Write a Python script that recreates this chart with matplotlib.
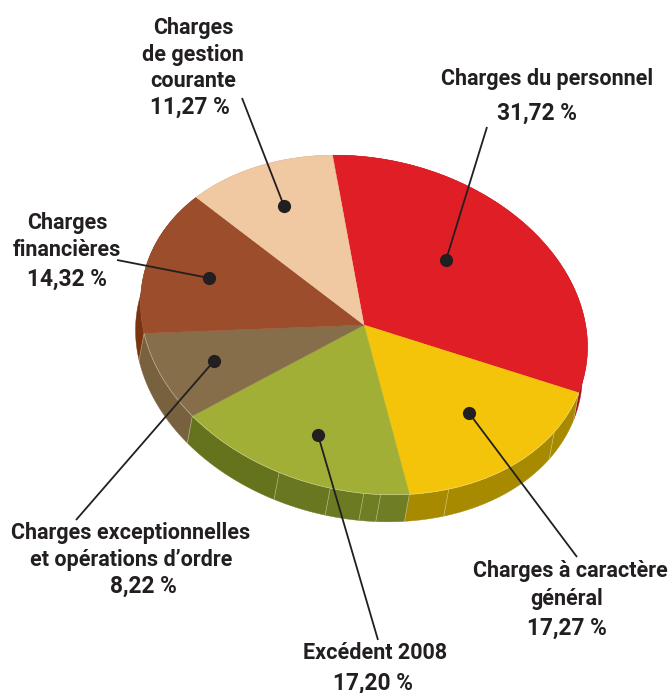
import numpy as np
import matplotlib; matplotlib.use("Agg")
import matplotlib.pyplot as plt
from matplotlib.transforms import Affine2D
from matplotlib.patches import Polygon
plt.rcParams.update({"font.family":"Roboto","font.weight":"bold"})
INK="#231f20"

labels=["Charges du personnel","Charges à caractère général","Excédent 2008",
        "Charges exceptionnelles et opérations d’ordre","Charges financières","Charges de gestion courante"]
values=[31.72,17.27,17.20,8.22,14.32,11.27]
top_cols=["#e01e26","#f3c409","#a1af37","#876e4a","#9c4d2b","#f0c8a2"]
side_cols=["#a51020","#a88a00","#65731c","#78613f","#7a3510","#c9a080"]
# rim facet breaks, as fraction of each slice (clockwise from its start)
side_breaks={1:[0.25,0.83],2:[0.12,0.19,0.33,0.55]}
facet_tint={2:["#6f7d24","#6f7d24","#6c7a22","#697720","#65731c"]}

cx,cy=364,325; ra,rb=224,168; tilt=6; shear=3; start=102.6
depth_x,depth_y=-5,27

fig=plt.figure(figsize=(6.71,6.93),dpi=100)
ax=fig.add_axes([0,0,1,1])
wedges,_=ax.pie(values,colors=top_cols,startangle=start,counterclock=False,radius=1,center=(0,0))
ax.set_aspect("auto"); ax.set_xlim(0,671); ax.set_ylim(693,0); ax.axis("off")
warp=Affine2D().scale(ra,-rb).rotate_deg(tilt).skew_deg(0,shear).translate(cx,cy)

def rim(t):
    return warp.transform(np.column_stack([np.cos(np.radians(t)),np.sin(np.radians(t))]))

# side of the disc, one polygon per facet
edges=start-np.cumsum([0]+values)*3.6
for i in range(len(values)):
    t0,t1=edges[i],edges[i+1]
    cuts=[0]+side_breaks.get(i,[])+[1]
    for k in range(len(cuts)-1):
        t=np.linspace(t0+(t1-t0)*cuts[k],t0+(t1-t0)*cuts[k+1],60)
        p=rim(t)
        poly=np.vstack([p,p[::-1]+[depth_x,depth_y]])
        col=facet_tint[i][k] if i in facet_tint else side_cols[i]
        ax.add_patch(Polygon(poly,closed=True,fc=col,ec=col,lw=0.3,zorder=1))
    for k in range(len(cuts)-1):
        t=t0+(t1-t0)*cuts[k]
        p=rim(np.array([t]))[0]
        ax.plot([p[0],p[0]+depth_x],[p[1],p[1]+depth_y],color="#e8e8c8",lw=0.5,alpha=0.55,zorder=1.5)

for w,c in zip(wedges,top_cols):
    w.set_transform(warp+ax.transData); w.set_zorder(2); w.set_edgecolor(c); w.set_linewidth(0.3)
# pale seam only where the top meets the visible rim
t=np.linspace(edges[1],edges[4],300); p=rim(t)
ax.plot(p[:,0],p[:,1],color="#f4f0dc",lw=0.4,alpha=0.6,zorder=2.5)

# leader lines: dot, then label end
leaders=[((446,260),(487,127)),((469,413),(577,557)),((318,435),(378,640)),
         ((214,361),(76,520)),((209,278),(117,260)),((284,206),(242,98))]
for (x0,y0),(x1,y1) in leaders:
    ax.plot([x0,x1],[y0,y1],color=INK,lw=1.3,zorder=3,solid_capstyle="butt")
    ax.plot(x0,y0,"o",color=INK,ms=9.5,mew=0,zorder=4)

texts=[(547,79,"Charges du personnel"),(537,113,"31,72 %"),
       (570,571,"Charges à caractère"),(567,599,"général"),(567,628,"17,27 %"),
       (375,653,"Excédent 2008"),(373,683,"17,20 %"),
       (131,533,"Charges exceptionnelles"),(131,560,"et opérations d’ordre"),(143,586,"8,22 %"),
       (67,223,"Charges"),(67,250,"financières"),(67,279,"14,32 %"),
       (193,28,"Charges"),(193,55,"de gestion"),(193,81,"courante"),(190,107,"11,27 %")]
for x,y,s in texts:
    fs=16.4 if "%" in s else 15.5
    ax.text(x,y,s,ha="center",va="center",fontsize=fs,color=INK,zorder=5)

fig.savefig("out.png",dpi=100)
plt.close(fig)
